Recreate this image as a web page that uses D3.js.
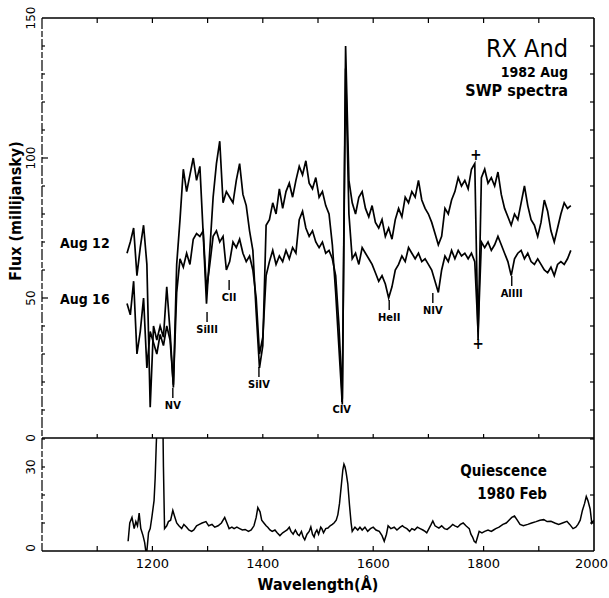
<!DOCTYPE html>
<html><head><meta charset="utf-8">
<script src="https://cdn.jsdelivr.net/npm/d3@7/dist/d3.min.js"></script>
<style>
body{margin:0;background:#fff}
text{font-family:"DejaVu Sans Condensed","DejaVu Sans",sans-serif;fill:#000}
</style>
</head><body>
<svg id="chart" width="609" height="598"></svg>
<script>
// ---------------- DATA ----------------
const waveStart = 1154, waveStep = 6;   // sampling grid of the 1982 Aug SWP spectra (Å)
const aug12 = [66,70,75,58,68,76,62,11,40,35,40,36,54,38,18,62,78,96,88,94,
  100,92,97,73,48,67,86,98,106,84,88,86,84,92,98,87,83,74,67,45,
  25,33,76,78,84,80,89,82,88,91,86,92,97,94,99,91,89,93,86,88,
  83,80,69,52,32,12,140,92,84,80,86,88,82,79,83,77,75,78,72,75,
  71,78,82,79,86,84,88,86,92,85,82,80,77,73,69,72,82,80,85,88,
  93,90,92,89,96,98,35,93,96,91,93,90,95,87,82,79,76,80,78,84,
  90,83,78,76,72,77,85,81,74,70,75,80,84,82,83];
const aug16 = [48,44,56,30,38,50,25,38,34,30,37,33,40,35,19,52,64,61,66,62,
  71,73,72,74,53,62,72,74,70,72,60,63,70,68,71,66,63,65,60,50,
  30,36,58,63,67,62,65,63,67,64,68,66,78,81,75,72,74,70,68,70,
  66,67,64,58,40,14,132,80,64,66,62,68,66,64,62,59,56,58,55,50,
  54,60,62,65,63,68,66,64,66,63,64,62,60,56,52,60,65,63,67,64,
  67,65,66,64,66,63,38,70,68,70,67,69,72,69,66,63,58,64,66,67,
  64,66,63,62,64,62,60,59,61,58,62,63,62,64,67];
const quietWave = [1156,1159,1163,1167,1170,1173,1176,1179,1183,1186,1188,1190,1193,1196,1199,1203,1205,1207,1209,1216,
  1219,1220,1222,1226,1229,1233,1237,1240,1244,1248,1253,1257,1262,1266,1271,1275,1280,1285,1290,1297,
  1302,1308,1313,1319,1325,1331,1335,1339,1344,1348,1353,1358,1363,1368,1374,1379,1384,1388,1391,1395,
  1398,1402,1406,1409,1413,1417,1422,1426,1431,1436,1440,1444,1448,1451,1455,1459,1463,1466,1470,1473,
  1476,1480,1484,1487,1490,1493,1495,1498,1501,1505,1507,1510,1514,1518,1522,1526,1529,1533,1536,1539,
  1542,1545,1547,1549,1551,1554,1557,1560,1562,1567,1572,1576,1580,1585,1590,1595,1600,1605,1611,1616,
  1620,1624,1627,1632,1638,1643,1649,1653,1656,1661,1666,1670,1675,1680,1685,1690,1694,1697,1701,1705,
  1708,1712,1716,1719,1724,1729,1734,1739,1744,1748,1753,1758,1763,1768,1771,1774,1777,1780,1783,1786,
  1789,1792,1797,1802,1808,1814,1818,1822,1828,1835,1841,1846,1851,1856,1861,1866,1872,1880,1887,1895,
  1902,1909,1915,1922,1929,1936,1943,1951,1956,1962,1967,1971,1975,1979,1983,1986,1989,1993,1996,2000];
const quietFlux = [3.5,10,12,8,10.5,9,13.5,8,5.5,3,0,0,6.5,8,12,18,26,38,48,52,
  46,30,8,9,10.5,11,14.5,12.5,10,9,8,9.5,8.5,7.5,7,7.5,9,9.5,10,10.5,
  9,9.5,8.5,9,10,12,10,8,8.5,8,8.5,8,7.5,7.7,7,7.5,9,12,15.5,14,
  11,10,9,8.5,7.5,7,7.5,6.5,5.5,6.5,7,7.5,8.5,7,6,7.5,6,5.5,7,5,
  4,6,7,8.6,6,5,6.5,7.5,6,8.5,8,6.5,8,8.2,9,9.5,10,11,13,17,
  23,29,31,30,28,24,16.5,10,7,8.5,7.5,8.5,7.5,8.5,7,8,8.5,7.5,7,5.5,
  3.5,6,9,8,8.5,7.5,8.5,9,8.5,8,7,8,7.5,8.5,8,7.5,7,6.5,8,9.5,
  10.7,9,8.5,8.2,9,8,7.7,8.5,9.5,9,8.5,9.5,10,9,8.5,8,6,5,3.5,3,
  5,7,6.5,7,7.5,7,7.5,8,8.5,9.5,10,11,12,12.5,11,9.5,9,9.5,10,10.5,
  11,11.2,10.5,10.6,10,9.5,10,10.6,9.5,8,8.5,9.5,11,14.5,17,19.5,18,15,10,11];
const waveTicks = [1100,1200,1300,1400,1500,1600,1700,1800,1900];
const waveLabels = [1200,1400,1600,1800,2000];
const upperFluxLabels = [0,50,100,150];
const lowerFluxLabels = [0,30];
// line identifications: label, wavelength (Å), flux at top of marker (mJy)
const lineIds = [
  {t:"NV",    w:1237, f:17.9},
  {t:"SiIII", w:1299, f:45.0},
  {t:"CII",   w:1339, f:56.4},
  {t:"SiIV",  w:1393, f:25.4},
  {t:"CIV",   w:1543, f:16.4},
  {t:"HeII",  w:1629, f:49.3},
  {t:"NIV",   w:1708, f:51.8},
  {t:"AlIII", w:1851, f:57.9}
];
const plusMarks = [{w:1786, f:101}, {w:1790, f:33.6}];

// ---------------- CHART ----------------
const svg = d3.select("#chart");
const W = 609, L = 42, R = 594, T = 18, MID = 438, B = 551;
const x = d3.scaleLinear().domain([1000, 2000]).range([L, R]);
const yU = d3.scaleLinear().domain([0, 150]).range([MID, T]);
const yL = d3.scaleLinear().domain([0, (B - MID) / ((MID - T) / 150)]).range([B, MID]);

const defs = svg.append("defs");
defs.append("clipPath").attr("id","cu").append("rect").attr("x",L).attr("y",T).attr("width",R-L).attr("height",MID-T);
defs.append("clipPath").attr("id","cl").append("rect").attr("x",L).attr("y",MID).attr("width",R-L).attr("height",B-MID);

// frames
const frame = svg.append("g").attr("stroke","#000").attr("fill","none");
frame.append("line").attr("x1",L).attr("x2",R).attr("y1",T).attr("y2",T).attr("stroke-width",1.6);
frame.append("line").attr("x1",R).attr("x2",R).attr("y1",T).attr("y2",B).attr("stroke-width",1.6);
frame.append("line").attr("x1",L).attr("x2",L).attr("y1",T).attr("y2",B).attr("stroke-width",1.2).attr("stroke-dasharray","11,2,6,2");
frame.append("line").attr("x1",L).attr("x2",R).attr("y1",MID).attr("y2",MID).attr("stroke-width",1.6);
frame.append("line").attr("x1",L).attr("x2",R).attr("y1",B).attr("y2",B).attr("stroke-width",1.6);

// ticks
const tk = svg.append("g").attr("stroke","#000").attr("stroke-width",1.2);
waveTicks.forEach(w => {
  tk.append("line").attr("x1",x(w)).attr("x2",x(w)).attr("y1",T).attr("y2",T+5);
  tk.append("line").attr("x1",x(w)).attr("x2",x(w)).attr("y1",MID).attr("y2",MID-4);
  tk.append("line").attr("x1",x(w)).attr("x2",x(w)).attr("y1",B).attr("y2",B-5);
});
d3.range(10, 150, 10).forEach(v => {
  const len = (v % 50 === 0) ? 6 : 3;
  tk.append("line").attr("x1",L).attr("x2",L+len).attr("y1",yU(v)).attr("y2",yU(v));
  tk.append("line").attr("x1",R).attr("x2",R-4).attr("y1",yU(v)).attr("y2",yU(v));
});
d3.range(10, 41, 10).forEach(v => {
  tk.append("line").attr("x1",L).attr("x2",L+3).attr("y1",yL(v)).attr("y2",yL(v));
  tk.append("line").attr("x1",R).attr("x2",R-4).attr("y1",yL(v)).attr("y2",yL(v));
});

// tick labels
const tl = svg.append("g").attr("font-size",12);
upperFluxLabels.forEach(v => {
  tl.append("text").attr("transform",`translate(31,${yU(v)}) rotate(-90)`)
    .attr("text-anchor","middle").attr("dy","0.35em").style("font-family","DejaVu Sans").text(v);
});
lowerFluxLabels.forEach(v => {
  const yy = v === 0 ? yL(v) - 3 : yL(v);
  tl.append("text").attr("transform",`translate(31,${yy}) rotate(-90)`)
    .attr("text-anchor","middle").attr("dy","0.35em").style("font-family","DejaVu Sans").text(v);
});
waveLabels.forEach(w => {
  const t = tl.append("text").attr("y",568).attr("font-size",13).style("font-family","DejaVu Sans").text(w);
  if (x(w) + 18 > W) t.attr("x", W - 1).attr("text-anchor","end");
  else t.attr("x", x(w)).attr("text-anchor","middle");
});

// axis titles
svg.append("text").attr("x",318).attr("y",590).attr("text-anchor","middle")
  .attr("font-size",16).attr("font-weight","bold").text("Wavelength(Å)");
svg.append("text").attr("transform","translate(21,211) rotate(-90)").attr("text-anchor","middle")
  .attr("font-size",16).attr("font-weight","bold").text("Flux (millijansky)");

// spectra
const lineU = d3.line().x((d,i) => x(waveStart + i*waveStep)).y(d => yU(d));
[aug12, aug16].forEach(s => {
  svg.append("path").attr("d", lineU(s)).attr("clip-path","url(#cu)")
    .attr("fill","none").attr("stroke","#000").attr("stroke-width",1.7).attr("stroke-linejoin","miter");
});
const lineQ = d3.line().x((d,i) => x(quietWave[i])).y(d => yL(d));
svg.append("path").attr("d", lineQ(quietFlux)).attr("clip-path","url(#cl)")
  .attr("fill","none").attr("stroke","#000").attr("stroke-width",1.5);

// line identifications
const ids = svg.append("g");
lineIds.forEach(d => {
  const yt = yU(d.f);
  ids.append("line").attr("x1",x(d.w)).attr("x2",x(d.w)).attr("y1",yt).attr("y2",yt+10)
    .attr("stroke","#000").attr("stroke-width",1.4);
  ids.append("text").attr("x",x(d.w)).attr("y",yt+21).attr("text-anchor","middle")
    .attr("font-size",11).attr("font-weight","bold").text(d.t);
});
plusMarks.forEach(d => {
  ids.append("text").attr("x",x(d.w)).attr("y",yU(d.f)).attr("text-anchor","middle").attr("dy","0.35em")
    .attr("font-size",15).attr("font-weight","bold").text("+");
});

// annotations
const ann = svg.append("g").attr("text-anchor","end");
ann.append("text").attr("x",568).attr("y",57).attr("font-size",25).text("RX And");
ann.append("text").attr("x",568).attr("y",77).attr("font-size",14).attr("font-weight","bold").text("1982 Aug");
ann.append("text").attr("x",568).attr("y",96).attr("font-size",16).attr("font-weight","bold").text("SWP spectra");
ann.append("text").attr("x",547).attr("y",476).attr("font-size",15).attr("font-weight","bold").text("Quiescence");
ann.append("text").attr("x",547).attr("y",499).attr("font-size",15).attr("font-weight","bold").text("1980 Feb");
const lab = svg.append("g").attr("font-size",14).attr("font-weight","bold");
lab.append("text").attr("x",60).attr("y",248).text("Aug 12");
lab.append("text").attr("x",60).attr("y",304).text("Aug 16");
</script>
</body></html>
